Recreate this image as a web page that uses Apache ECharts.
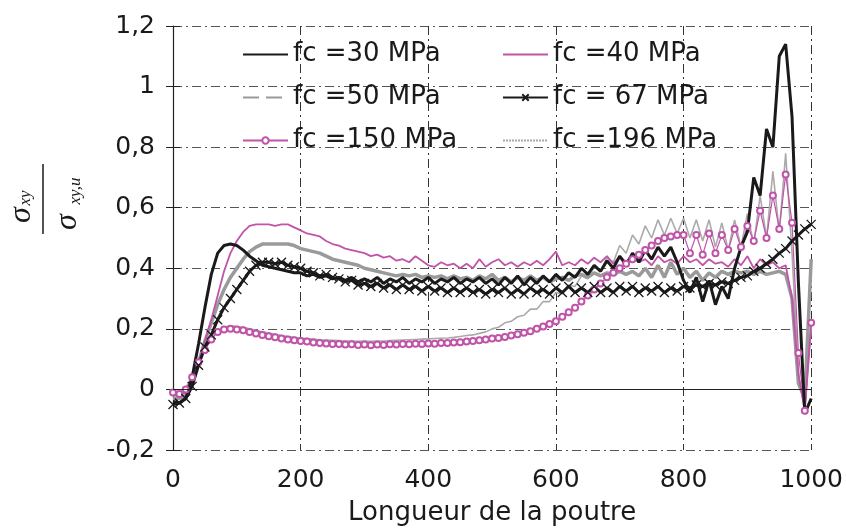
<!DOCTYPE html>
<html>
<head>
<meta charset="utf-8">
<script src="https://cdn.jsdelivr.net/npm/echarts@6/dist/echarts.min.js"></script>
<style>
html,body{margin:0;padding:0;background:#fff;}
#chart{width:846px;height:531px;}
</style>
</head>
<body>
<div id="chart"></div>
<script>
// sampling positions along the beam
const xs = [0,10,20,30,40,50,60,70,80,90,100,110,120,130,140,150,160,170,180,190,200,210,220,230,240,250,260,270,280,290,300,310,320,330,340,350,360,370,380,390,400,410,420,430,440,450,460,470,480,490,500,510,520,530,540,550,560,570,580,590,600,610,620,630,640,650,660,670,680,690,700,710,720,730,740,750,760,770,780,790,800,810,820,830,840,850,860,870,880,890,900,910,920,930,940,950,960,970,980,990,1000];

const names = ['fc =30 MPa','fc =40 MPa','fc =50 MPa','fc = 67 MPa','fc =150 MPa','fc =196 MPa'];

const s30 = [-0.04,-0.045,-0.03,0.04,0.15,0.27,0.38,0.45,0.475,0.48,0.475,0.46,0.44,0.425,0.41,0.405,0.40,0.395,0.39,0.385,0.385,0.375,0.38,0.37,0.375,0.365,0.37,0.36,0.37,0.355,0.365,0.355,0.37,0.35,0.365,0.355,0.37,0.35,0.365,0.355,0.37,0.35,0.365,0.355,0.37,0.35,0.365,0.355,0.37,0.35,0.365,0.345,0.37,0.35,0.375,0.345,0.37,0.35,0.375,0.355,0.38,0.36,0.385,0.37,0.40,0.38,0.41,0.39,0.425,0.40,0.44,0.41,0.45,0.42,0.46,0.43,0.47,0.44,0.47,0.42,0.36,0.32,0.37,0.29,0.36,0.28,0.34,0.30,0.40,0.47,0.52,0.70,0.64,0.86,0.80,1.10,1.14,0.90,0.35,-0.08,-0.03];

const s40 = [-0.02,-0.02,-0.01,0.03,0.09,0.16,0.23,0.31,0.39,0.45,0.49,0.52,0.54,0.545,0.545,0.545,0.54,0.545,0.545,0.535,0.525,0.515,0.51,0.505,0.49,0.48,0.475,0.465,0.46,0.455,0.45,0.44,0.445,0.435,0.44,0.425,0.43,0.42,0.44,0.425,0.41,0.405,0.42,0.41,0.415,0.40,0.415,0.40,0.43,0.405,0.42,0.43,0.41,0.42,0.405,0.42,0.41,0.425,0.41,0.43,0.455,0.41,0.42,0.41,0.43,0.415,0.435,0.42,0.44,0.415,0.44,0.42,0.445,0.42,0.43,0.41,0.44,0.42,0.43,0.415,0.44,0.42,0.43,0.41,0.43,0.415,0.42,0.405,0.43,0.41,0.44,0.40,0.43,0.41,0.42,0.40,0.41,0.30,0.05,-0.07,0.22];

const s50 = [-0.03,-0.03,-0.02,0.03,0.09,0.16,0.22,0.28,0.33,0.37,0.40,0.43,0.455,0.47,0.48,0.48,0.48,0.48,0.48,0.475,0.465,0.46,0.455,0.45,0.44,0.43,0.425,0.42,0.415,0.41,0.40,0.395,0.39,0.385,0.38,0.375,0.38,0.375,0.38,0.37,0.375,0.37,0.375,0.365,0.375,0.365,0.37,0.36,0.375,0.365,0.38,0.36,0.37,0.355,0.37,0.36,0.375,0.36,0.37,0.355,0.365,0.37,0.36,0.375,0.38,0.37,0.385,0.375,0.385,0.38,0.39,0.38,0.39,0.375,0.40,0.37,0.41,0.37,0.42,0.38,0.40,0.37,0.39,0.36,0.385,0.37,0.39,0.38,0.39,0.385,0.39,0.38,0.39,0.38,0.385,0.39,0.38,0.30,0.02,-0.03,0.43];

const s67 = [-0.05,-0.045,-0.03,0.01,0.08,0.14,0.18,0.23,0.27,0.30,0.33,0.36,0.39,0.41,0.42,0.42,0.415,0.42,0.41,0.405,0.40,0.39,0.385,0.375,0.38,0.37,0.365,0.355,0.36,0.345,0.35,0.34,0.35,0.335,0.345,0.33,0.345,0.33,0.34,0.325,0.34,0.325,0.335,0.32,0.335,0.32,0.335,0.32,0.33,0.315,0.33,0.32,0.335,0.315,0.33,0.315,0.335,0.32,0.33,0.315,0.335,0.32,0.34,0.32,0.335,0.32,0.34,0.32,0.335,0.32,0.34,0.325,0.34,0.32,0.335,0.325,0.34,0.32,0.335,0.325,0.34,0.335,0.345,0.34,0.35,0.345,0.355,0.35,0.36,0.37,0.375,0.39,0.40,0.415,0.43,0.45,0.465,0.49,0.51,0.53,0.545];

const s150 = [-0.01,-0.015,0.0,0.04,0.09,0.13,0.165,0.19,0.198,0.20,0.198,0.195,0.19,0.185,0.18,0.176,0.172,0.168,0.165,0.162,0.16,0.158,0.155,0.153,0.152,0.15,0.15,0.148,0.149,0.147,0.148,0.146,0.148,0.147,0.149,0.148,0.15,0.149,0.151,0.15,0.152,0.151,0.153,0.153,0.155,0.156,0.158,0.16,0.162,0.165,0.168,0.17,0.173,0.178,0.182,0.187,0.192,0.20,0.208,0.216,0.225,0.24,0.255,0.27,0.29,0.31,0.33,0.35,0.37,0.385,0.40,0.415,0.43,0.445,0.46,0.475,0.49,0.50,0.505,0.51,0.51,0.45,0.51,0.445,0.515,0.45,0.51,0.46,0.53,0.47,0.54,0.49,0.59,0.50,0.64,0.53,0.71,0.55,0.12,-0.07,0.22];

const s196 = [-0.01,-0.01,0.005,0.045,0.095,0.135,0.17,0.195,0.205,0.21,0.208,0.205,0.20,0.195,0.19,0.186,0.182,0.178,0.175,0.172,0.17,0.168,0.166,0.164,0.163,0.162,0.161,0.16,0.16,0.159,0.16,0.159,0.16,0.16,0.161,0.162,0.163,0.164,0.165,0.166,0.167,0.168,0.169,0.17,0.172,0.175,0.178,0.18,0.185,0.19,0.20,0.205,0.22,0.225,0.24,0.245,0.265,0.265,0.29,0.29,0.32,0.315,0.345,0.34,0.375,0.365,0.405,0.39,0.435,0.42,0.475,0.45,0.51,0.48,0.54,0.50,0.56,0.51,0.565,0.515,0.565,0.50,0.56,0.49,0.56,0.47,0.55,0.46,0.56,0.47,0.58,0.48,0.64,0.50,0.72,0.52,0.78,0.45,0.05,-0.07,0.20];

const xTicks = [0,200,400,600,800,1000];
const yTicks = [-0.2,0,0.2,0.4,0.6,0.8,1,1.2];

const pink = '#c054a9';
const pts = arr => xs.map((x,i)=>[x, arr[i]]);
const fmtY = v => String(Math.round(v*10)/10).replace('.', ',');
const fmtX = v => String(Math.round(v));

const chart = echarts.init(document.getElementById('chart'), null, {renderer:'canvas'});
const dashDot = [9,4,2,4];
const noSym = {opacity:0};

const option = {
  animation:false,
  backgroundColor:'#fff',
  textStyle:{fontFamily:'"DejaVu Sans", sans-serif'},
  grid:{left:173, right:34, top:26, bottom:79.5, containLabel:false},
  xAxis:{
    type:'value', min:xTicks[0], max:xTicks[xTicks.length-1], interval:200,
    name:'Longueur de la poutre', nameLocation:'middle', nameGap:50,
    nameTextStyle:{fontSize:26, color:'#1a1a1a', fontFamily:'"DejaVu Sans"'},
    axisLine:{show:false},
    axisTick:{show:false},
    axisLabel:{fontSize:25, color:'#1a1a1a', margin:18, formatter:fmtX, fontFamily:'"DejaVu Sans"'},
    splitLine:{show:true, lineStyle:{color:'#333', width:1, type:dashDot}}
  },
  yAxis:[{
    type:'value', min:yTicks[0], max:yTicks[yTicks.length-1], interval:0.2,
    axisLine:{show:true, onZero:false, lineStyle:{color:'#222', width:1.2}},
    axisTick:{show:true, length:7, lineStyle:{color:'#222', width:1}},
    axisLabel:{fontSize:25, color:'#1a1a1a', margin:18, formatter:fmtY, fontFamily:'"DejaVu Sans"'},
    splitLine:{show:true, lineStyle:{color:'#555', width:1, type:dashDot}}
  },{
    type:'value', min:yTicks[0], max:yTicks[yTicks.length-1], interval:0.2, position:'left',
    axisLine:{show:false},
    axisTick:{show:true, inside:true, length:7, lineStyle:{color:'#222', width:1}},
    axisLabel:{show:false},
    splitLine:{show:false}
  }],
  legend:[{
    orient:'vertical', left:237, top:36, itemWidth:45, itemHeight:8, itemGap:16,
    textStyle:{fontSize:26, color:'#1a1a1a', lineHeight:27, fontFamily:'"DejaVu Sans"'},
    data:[
      {name:names[0], itemStyle:noSym},
      {name:names[2], itemStyle:noSym, lineStyle:{type:[16,7]}},
      {name:names[4]}
    ]
  },{
    orient:'vertical', left:497, top:36, itemWidth:45, itemHeight:8, itemGap:16,
    textStyle:{fontSize:26, color:'#1a1a1a', lineHeight:27, fontFamily:'"DejaVu Sans"'},
    data:[
      {name:names[1], itemStyle:noSym},
      {name:names[3]},
      {name:names[5], itemStyle:noSym, lineStyle:{type:[2,1]}}
    ]
  }],
  series:[
    {name:names[5], type:'line', data:pts(s196), showSymbol:false, symbol:'none',
     lineStyle:{color:'#aaaaaa', width:1.6}, itemStyle:{color:'#aaaaaa'},
     markLine:{silent:true, symbol:['none','none'], label:{show:false},
       lineStyle:{color:'#222', width:1.2, type:'solid'}, data:[{yAxis:0}]}},
    {name:names[2], type:'line', data:pts(s50), showSymbol:false, symbol:'none',
     lineStyle:{color:'#9a9a9a', width:3.5}, itemStyle:{color:'#9a9a9a'}},
    {name:names[4], type:'line', data:pts(s150), symbol:'emptyCircle', symbolSize:6, showSymbol:true,
     lineStyle:{color:pink, width:1.2}, itemStyle:{color:pink, borderColor:pink, borderWidth:1}},
    {name:names[1], type:'line', data:pts(s40), showSymbol:false, symbol:'none',
     lineStyle:{color:pink, width:1.8}, itemStyle:{color:pink}},
    {name:names[3], type:'line', data:pts(s67), symbol:'path://M0,0L10,10M10,0L0,10', symbolSize:9, showSymbol:true,
     lineStyle:{color:'#1a1a1a', width:3}, itemStyle:{color:'none', borderColor:'#1a1a1a', borderWidth:1.3}},
    {name:names[0], type:'line', data:pts(s30), showSymbol:false, symbol:'none',
     lineStyle:{color:'#1a1a1a', width:3}, itemStyle:{color:'#1a1a1a'}}
  ],
  graphic:[{
    type:'group', x:43, y:200, rotation:Math.PI/2,
    children:[
      {type:'line', shape:{x1:-34, y1:0, x2:36, y2:0}, style:{stroke:'#1a1a1a', lineWidth:1.5}},
      {type:'text', x:-15, y:-21, style:{text:'σ', font:'italic 32px "Liberation Serif"', fill:'#1a1a1a', align:'center', verticalAlign:'middle'}},
      {type:'text', x:2, y:-17, style:{text:'xy', font:'italic 17px "Liberation Serif"', fill:'#1a1a1a', align:'center', verticalAlign:'middle'}},
      {type:'text', x:-22, y:25, style:{text:'σ', font:'italic 32px "Liberation Serif"', fill:'#1a1a1a', align:'center', verticalAlign:'middle'}},
      {type:'text', x:9, y:33, style:{text:'xy,u', font:'italic 17px "Liberation Serif"', fill:'#1a1a1a', align:'center', verticalAlign:'middle'}}
    ]
  }]
};
chart.setOption(option);
</script>
</body>
</html>
